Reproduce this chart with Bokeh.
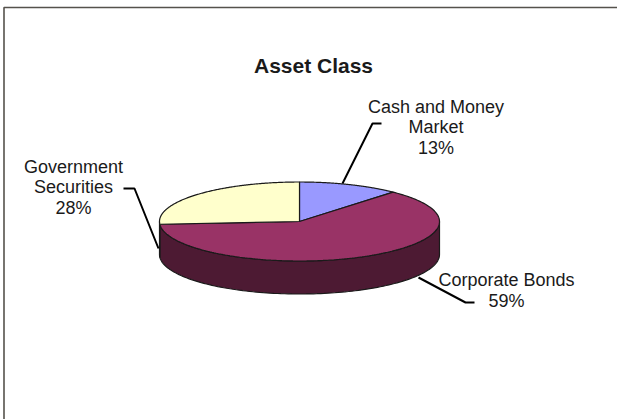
import math
import numpy as np
from bokeh.plotting import figure
from bokeh.models import Range1d
from bokeh.embed import file_html
from bokeh.resources import INLINE

categories = ["Cash and Money\nMarket", "Corporate Bonds", "Government\nSecurities"]
shares = [13, 59, 28]
title = "Asset Class"
colors = ["#9999FF", "#993366", "#FFFFCC"]
side_colors = ["#4D4D80", "#4D1A33", "#80805F"]

W, H = 617, 419
CX, CY, RX, RY, DEPTH = 299, 221, 140, 39.5, 33
PERSP = 0.887

p = figure(width=W, height=H, output_backend="svg", toolbar_location=None,
           x_range=Range1d(0, W), y_range=Range1d(H, 0), min_border=0,
           x_axis_location=None, y_axis_location=None, outline_line_color=None,
           background_fill_color="white", border_fill_color="white",
           styles={"position": "absolute", "left": "0px", "top": "0px"})
p.grid.visible = False

# frame
p.line([3.5, 3.5, W + 2, W + 2, 3.5, 3.5], [H + 2, 7, 7, H + 2, H + 2, 7],
       line_color="#55524c", line_width=1.6)

def warp(th):
    return 2 * np.arctan2(PERSP * np.sin(th / 2), np.cos(th / 2))

def ex(t): return CX + RX * np.sin(t)
def ey(t, d=0): return CY - RY * np.cos(t) + d

edges = np.concatenate([[0], np.cumsum(shares)]) / sum(shares) * 2 * math.pi
slices = [(edges[i], edges[i + 1]) for i in range(len(shares))]

# sides: only the front half (pi/2 .. 3pi/2 on screen) shows
for i, (a, b) in enumerate(slices):
    lo, hi = max(warp(a) % (2 * math.pi), math.pi / 2), warp(b) if b < 2 * math.pi - 1e-9 else 2 * math.pi
    hi = min(hi, 3 * math.pi / 2)
    if hi <= lo:
        continue
    t = np.linspace(lo, hi, 120)
    xs = np.concatenate([ex(t), ex(t)[::-1]])
    ys = np.concatenate([ey(t), ey(t, DEPTH)[::-1]])
    p.patch(xs, ys, fill_color=side_colors[i], line_color="#1a1a1a", line_width=1.2)

# top faces
for i, (a, b) in enumerate(slices):
    t = np.linspace(warp(a), warp(b) if b < 2 * math.pi - 1e-9 else 2 * math.pi, 200)
    xs = np.concatenate([[CX], ex(t)])
    ys = np.concatenate([[CY], ey(t)])
    p.patch(xs, ys, fill_color=colors[i], line_color="#1a1a1a", line_width=1.2)

# leader lines
p.line([342, 372, 381], [183, 123, 123], line_color="black", line_width=2)
p.line([123, 134, 158], [188, 188, 248], line_color="black", line_width=2)
p.line([418, 465, 474], [277, 302, 302], line_color="black", line_width=2)

# labels
def label(x, y, txt, size="18px", style="normal"):
    p.text([x], [y], text=[txt], text_align="center", text_baseline="middle",
           text_font={"value": "Liberation Sans"}, text_font_size=size,
           text_font_style=style, text_color="#1a1a1a", text_line_height=1.03)

label(313, 64.5, title, "21px", "bold")
label(435.5, 127, f"{categories[0]}\n{shares[0]}%")
label(506, 290, f"{categories[1]}\n{shares[1]}%")
label(73, 187, f"{categories[2]}\n{shares[2]}%")

open("out.html", "w").write(file_html(p, INLINE))
